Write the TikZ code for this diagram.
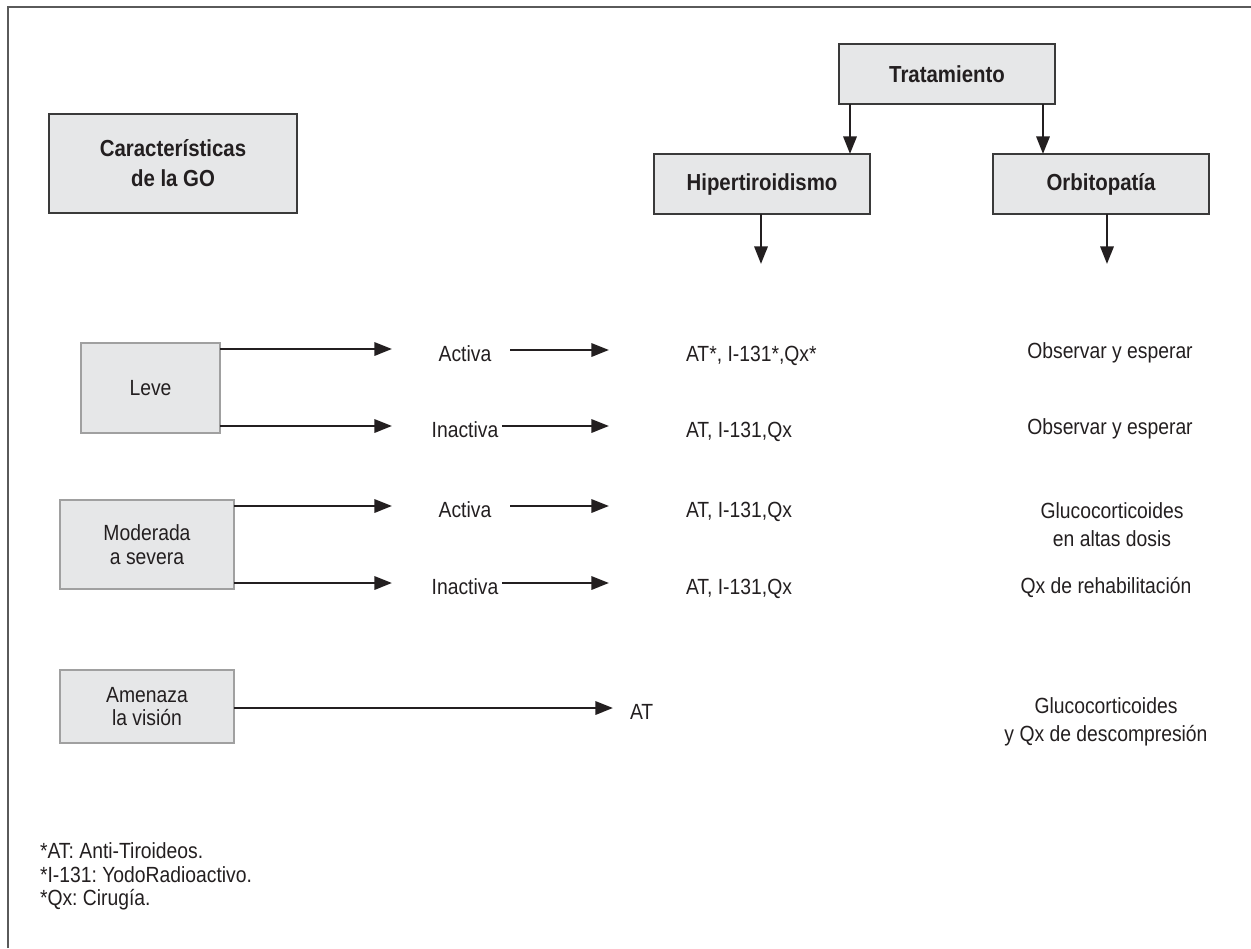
\documentclass[tikz,border=0pt]{standalone}
\usepackage{fontspec}
\setmainfont{Liberation Sans}[FakeStretch=0.88]
\usetikzlibrary{arrows.meta,calc}
\definecolor{ink}{HTML}{231F20}
\definecolor{boxfill}{HTML}{E6E7E8}
\definecolor{darkedge}{HTML}{3A3A3A}
\definecolor{lightedge}{HTML}{A0A0A0}
\definecolor{framegray}{HTML}{5A5A5A}
\frenchspacing
\begin{document}
\begin{tikzpicture}[x=0.02cm,y=-0.02cm,
  every node/.style={text=ink,font=\fontsize{12.5}{13}\selectfont,inner sep=0pt,outer sep=0pt},
  darkbox/.style={draw=darkedge,fill=boxfill,line width=0.9pt,font=\bfseries\fontsize{13.2}{17}\selectfont,align=center},
  lightbox/.style={draw=lightedge,fill=boxfill,line width=0.8pt,align=center},
  arr/.style={draw=ink,line width=1.5pt,-{Triangle[length=10pt,width=7.5pt]}},
  lbl/.style={anchor=base},
  lbw/.style={anchor=base west},
  twoline/.style={align=center,font=\fontsize{12.5}{16}\selectfont}
]
\useasboundingbox (0,0) rectangle (1251,948);
% frame
\draw[framegray,line width=1.1pt] (8,948) -- (8,7) -- (1251,7);

% boxes
\node[darkbox,minimum width=4.96cm,minimum height=1.98cm] (car) at (173,163.5) {Características\\de la GO};
\node[darkbox,minimum width=4.32cm,minimum height=1.2cm] (trat) at (947,74) {Tratamiento};
\node[darkbox,minimum width=4.32cm,minimum height=1.2cm] (hip) at (762,184) {Hipertiroidismo};
\node[darkbox,minimum width=4.32cm,minimum height=1.2cm] (orb) at (1101,184) {Orbitopatía};
\node[lightbox,minimum width=2.78cm,minimum height=1.8cm] (leve) at (150.5,388) {Leve};
\node[lightbox,font=\fontsize{12.5}{13.6}\selectfont,minimum width=3.48cm,minimum height=1.78cm] (mod) at (147,544.5) {Moderada\\a severa};
\node[lightbox,font=\fontsize{12.5}{13.2}\selectfont,minimum width=3.48cm,minimum height=1.46cm] (ame) at (147,706.5) {Amenaza\\la visión};

% row labels
\node[lbl] (act1) at (465,361) {Activa};
\node[lbl] (ina1) at (465,437) {Inactiva};
\node[lbl] (act2) at (465,517) {Activa};
\node[lbl] (ina2) at (465,594) {Inactiva};

% hipertiroidismo column
\node[lbw] (h1) at (686,361) {AT*, I-131*,Qx*};
\node[lbw] (h2) at (686,437) {AT, I-131,Qx};
\node[lbw] (h3) at (686,517) {AT, I-131,Qx};
\node[lbw] (h4) at (686,594) {AT, I-131,Qx};
\node[lbw] (h5) at (630,719) {AT};

% orbitopatia column
\node[lbl] (o1) at (1110,358) {Observar y esperar};
\node[lbl] (o2) at (1110,434) {Observar y esperar};
\node[twoline] (o3) at (1112,525) {Glucocorticoides\\en altas dosis};
\node[lbl] (o4) at (1106,593) {Qx de rehabilitación};
\node[twoline] (o5) at (1106,722) {Glucocorticoides\\y Qx de descompresión};

% footnotes
\node[lbw] (f1) at (40,858) {*AT: Anti-Tiroideos.};
\node[lbw] (f2) at (40,882) {*I-131: YodoRadioactivo.};
\node[lbw] (f3) at (40,905) {*Qx: Cirugía.};

% coordinates for free arrow ends
\coordinate (e1) at (392,349);
\coordinate (e2) at (392,426);
\coordinate (e3) at (392,506);
\coordinate (e4) at (392,583);
\coordinate (e5) at (613,708);
\coordinate (m1) at (609,350);
\coordinate (m2) at (609,426);
\coordinate (m3) at (609,506);
\coordinate (m4) at (609,583);
\coordinate (tA) at (850,0);
\coordinate (tB) at (1043,0);
\coordinate (hE) at (761,264);
\coordinate (oE) at (1107,264);

% arrows
\draw[arr] (leve.east |- e1) -- (e1);
\draw[arr] (leve.east |- e2) -- (e2);
\draw[arr] (mod.east |- e3) -- (e3);
\draw[arr] (mod.east |- e4) -- (e4);
\draw[arr] (ame.east |- e5) -- (e5);

\draw[arr,shorten <=0.38cm] (act1.east |- m1) -- (m1);
\draw[arr,shorten <=0.07cm] (ina1.east |- m2) -- (m2);
\draw[arr,shorten <=0.38cm] (act2.east |- m3) -- (m3);
\draw[arr,shorten <=0.07cm] (ina2.east |- m4) -- (m4);

\draw[arr] (trat.south -| tA) -- (hip.north -| tA);
\draw[arr] (trat.south -| tB) -- (orb.north -| tB);
\draw[arr] (hip.south -| hE) -- (hE);
\draw[arr] (orb.south -| oE) -- (oE);
\end{tikzpicture}
\end{document}
